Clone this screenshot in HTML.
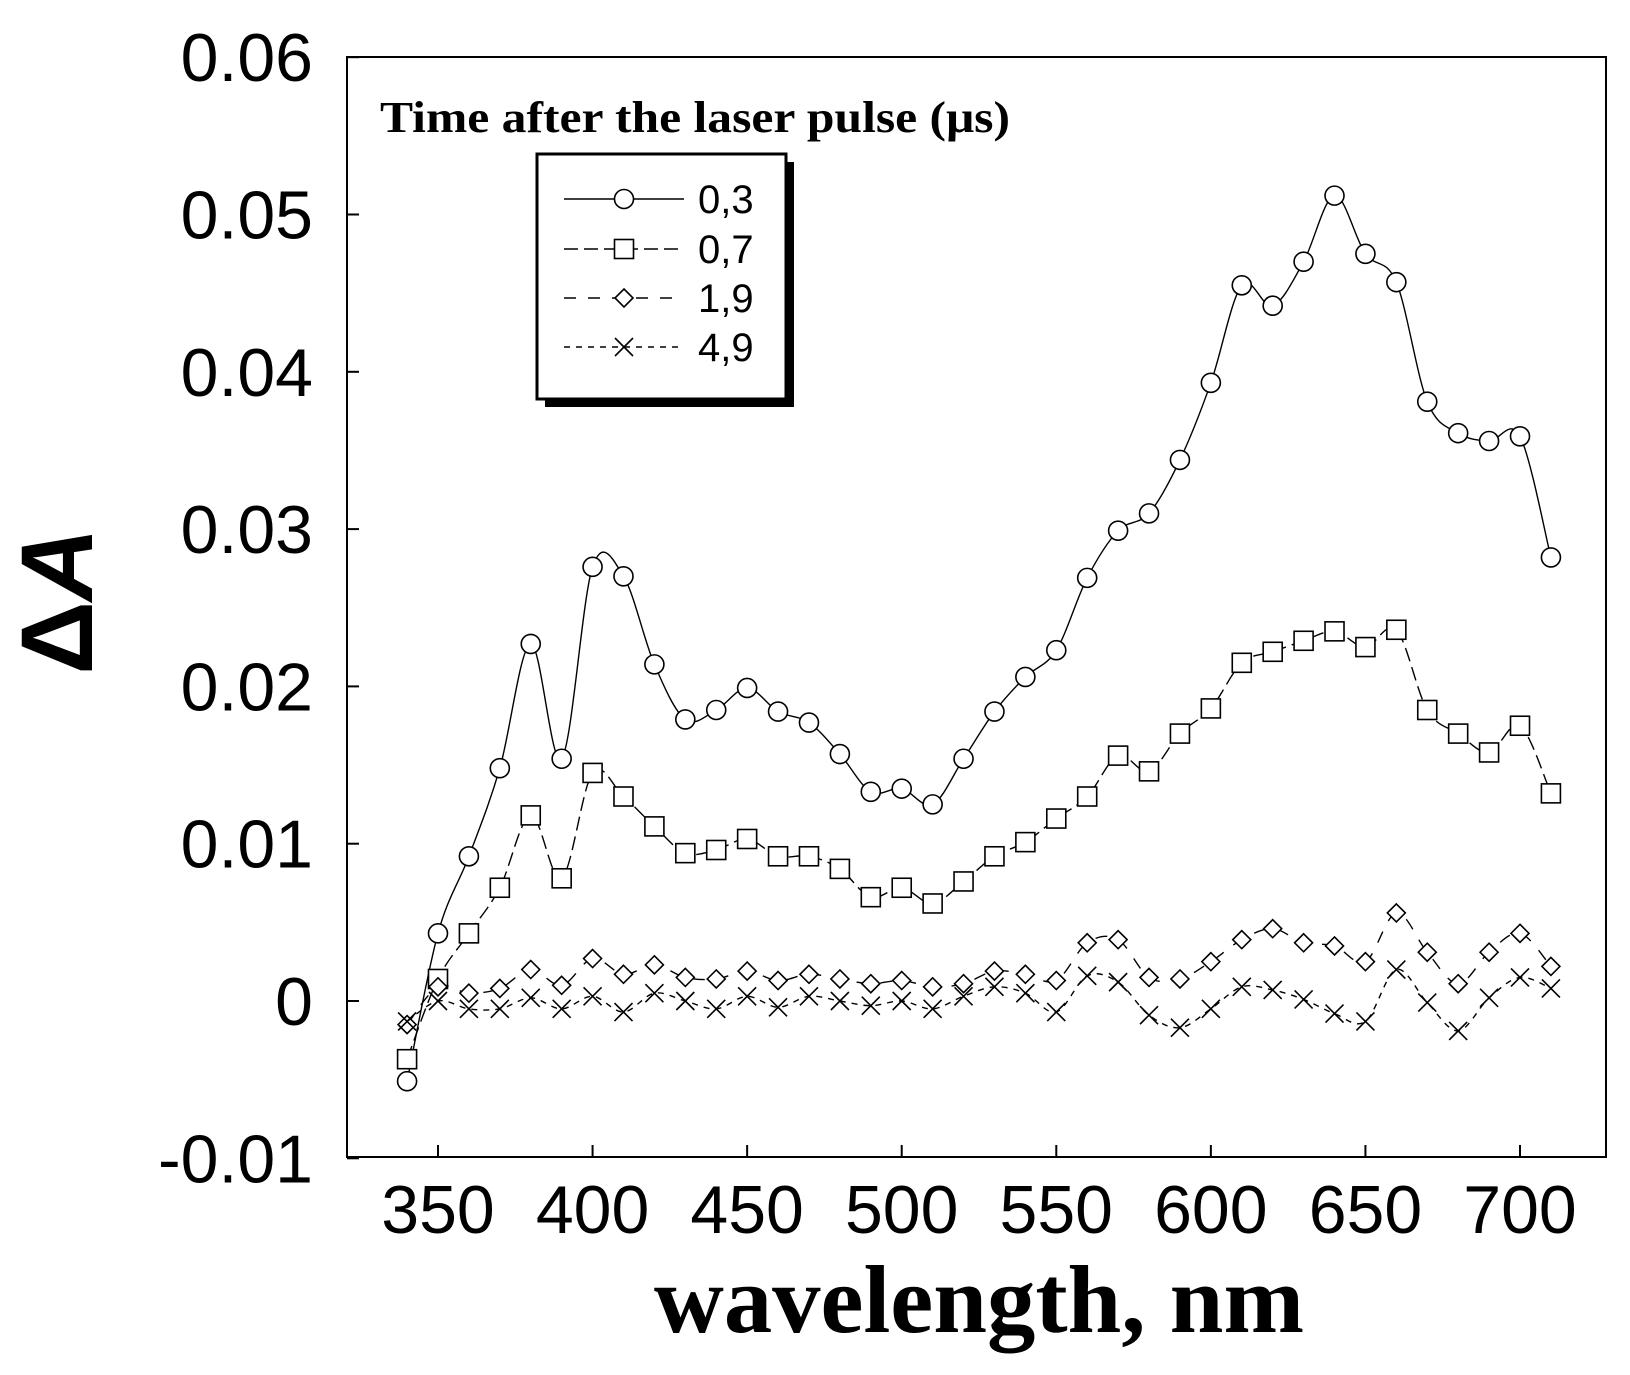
<!DOCTYPE html>
<html><head><meta charset="utf-8"><style>
html,body{margin:0;padding:0;background:#fff;}
svg{display:block;}
</style></head><body>
<svg id="chart" width="1630" height="1375" viewBox="0 0 1630 1375" xmlns="http://www.w3.org/2000/svg">
<rect x="347" y="57" width="1259" height="1100" fill="none" stroke="#000" stroke-width="2"/>
<g id="axes"></g>
<g id="series"></g>
<text transform="translate(92,601) rotate(-90)" text-anchor="middle" font-family="Liberation Sans, sans-serif" font-weight="bold" font-size="102"><tspan>Δ</tspan><tspan font-style="italic">A</tspan></text>
<text x="979" y="1332" text-anchor="middle" font-family="Liberation Serif, serif" font-weight="bold" font-size="96" textLength="650" lengthAdjust="spacingAndGlyphs">wavelength, nm</text>
<text x="380" y="132" font-family="Liberation Serif, serif" font-weight="bold" font-size="44" textLength="630" lengthAdjust="spacingAndGlyphs">Time after the laser pulse (μs)</text>
<g>
<rect x="545" y="162" width="249" height="245" fill="#000"/>
<rect x="537" y="154" width="249" height="245" fill="#fff" stroke="#000" stroke-width="3"/>
<g id="legend-items"></g>
</g>
</svg>
<script>
const wavelengths=[340,350,360,370,380,390,400,410,420,430,440,450,460,470,480,490,500,510,520,530,540,550,560,570,580,590,600,610,620,630,640,650,660,670,680,690,700,710];
const s03=[-0.0051,0.0043,0.0092,0.0148,0.0227,0.0154,0.0276,0.0270,0.0214,0.0179,0.0185,0.0199,0.0184,0.0177,0.0157,0.0133,0.0135,0.0125,0.0154,0.0184,0.0206,0.0223,0.0269,0.0299,0.0310,0.0344,0.0393,0.0455,0.0442,0.0470,0.0512,0.0475,0.0457,0.0381,0.0361,0.0356,0.0359,0.0282];
const s07=[-0.0037,0.0014,0.0043,0.0072,0.0118,0.0078,0.0145,0.0130,0.0111,0.0094,0.0096,0.0103,0.0092,0.0092,0.0084,0.0066,0.0072,0.0062,0.0076,0.0092,0.0101,0.0116,0.0130,0.0156,0.0146,0.0170,0.0186,0.0215,0.0222,0.0229,0.0235,0.0225,0.0236,0.0185,0.0170,0.0158,0.0175,0.0132];
const s19=[-0.0015,0.0009,0.0005,0.0008,0.0020,0.0010,0.0027,0.0017,0.0023,0.0015,0.0014,0.0019,0.0013,0.0017,0.0014,0.0011,0.0013,0.0009,0.0011,0.0019,0.0017,0.0013,0.0037,0.0039,0.0015,0.0014,0.0025,0.0039,0.0046,0.0037,0.0035,0.0025,0.0056,0.0031,0.0011,0.0031,0.0043,0.0022];
const s49=[-0.0013,0,-0.0005,-0.0005,0.0002,-0.0005,0.0003,-0.0007,0.0005,0,-0.0005,0.0003,-0.0004,0.0003,0,-0.0003,0,-0.0005,0.0003,0.0009,0.0005,-0.0007,0.0016,0.0012,-0.0009,-0.0017,-0.0005,0.0009,0.0007,0.0001,-0.0008,-0.0013,0.0020,-0.0001,-0.0019,0.0002,0.0015,0.0008];
const xTicks=[350,400,450,500,550,600,650,700];
const yTicks=[-0.01,0,0.01,0.02,0.03,0.04,0.05,0.06];
const yTickLabels=["-0.01","0","0.01","0.02","0.03","0.04","0.05","0.06"];
const seriesNames=["0,3","0,7","1,9","4,9"];

const NS="http://www.w3.org/2000/svg";
const X=v=>438+(v-350)*(1082/350);
const Y=v=>1001-v*15730;
function mk(tag,attrs,parent){const e=document.createElementNS(NS,tag);for(const k in attrs)e.setAttribute(k,attrs[k]);parent.appendChild(e);return e;}
const axes=document.getElementById('axes');
xTicks.forEach((t,i)=>{
  const l=mk('line',{x1:X(t),x2:X(t),y1:1157,y2:1145,stroke:'#000','stroke-width':2},axes);
  
  
  const tx=mk('text',{x:X(t),y:1233,'text-anchor':'middle','font-family':'Liberation Sans, sans-serif','font-size':68},axes);
  tx.textContent=t;
  
  
});
yTicks.forEach((t,i)=>{
  const l=mk('line',{x1:347,x2:359,y1:Y(t),y2:Y(t),stroke:'#000','stroke-width':2},axes);
  
  
  const tx=mk('text',{x:313,y:Y(t)+24,'text-anchor':'end','font-family':'Liberation Sans, sans-serif','font-size':68},axes);
  tx.textContent=yTickLabels[i];
  
  
});
function marker(type,x,y,g){
  const st={fill:'#fff',stroke:'#000','stroke-width':1.6};
  let e;
  if(type==='circle')e=mk('circle',Object.assign({cx:x,cy:y,r:9.5},st),g);
  else if(type==='square')e=mk('rect',Object.assign({x:x-9.5,y:y-9.5,width:19,height:19},st),g);
  else if(type==='diamond')e=mk('polygon',Object.assign({points:`${x},${y-9} ${x+9},${y} ${x},${y+9} ${x-9},${y}`},st),g);
  else e=mk('path',{d:`M${x-9},${y-9}L${x+9},${y+9}M${x-9},${y+9}L${x+9},${y-9}`,stroke:'#000','stroke-width':1.6,fill:'none'},g);
  return e;
}
function smoothPath(pts){
  let d=`M${pts[0][0]},${pts[0][1]}`;
  for(let i=0;i<pts.length-1;i++){
    const p0=pts[Math.max(0,i-1)],p1=pts[i],p2=pts[i+1],p3=pts[Math.min(pts.length-1,i+2)];
    const c1=[p1[0]+(p2[0]-p0[0])/6,p1[1]+(p2[1]-p0[1])/6];
    const c2=[p2[0]-(p3[0]-p1[0])/6,p2[1]-(p3[1]-p1[1])/6];
    d+=`C${c1[0]},${c1[1]} ${c2[0]},${c2[1]} ${p2[0]},${p2[1]}`;
  }
  return d;
}
const sg=document.getElementById('series');
const defs=[[s03,'circle',''],[s07,'square','14,6'],[s19,'diamond','12,12'],[s49,'cross','6,6']];
defs.forEach((d,si)=>{
  const g=mk('g',{},sg);
  
  
  const pts=wavelengths.map((w,i)=>[X(w),Y(d[0][i])]);
  const p=mk('path',{d:smoothPath(pts),fill:'none',stroke:'#000','stroke-width':1.4},g);
  if(d[2])p.setAttribute('stroke-dasharray',d[2]);
  
  
  pts.forEach(pt=>{
    const m=marker(d[1],pt[0],pt[1],g);
    
    
  });
});
const lg=document.getElementById('legend-items');
const ly=[199,249,298,347];
defs.forEach((d,si)=>{
  const g=mk('g',{},lg);
  
  
  const l=mk('line',{x1:564,x2:684,y1:ly[si],y2:ly[si],stroke:'#000','stroke-width':1.4},g);
  if(d[2])l.setAttribute('stroke-dasharray',d[2]);
  marker(d[1],624,ly[si],g);
  const t=mk('text',{x:698,y:ly[si]+14,'font-family':'Liberation Sans, sans-serif','font-size':40},g);
  t.textContent=seriesNames[si];
});
</script>
</body></html>
